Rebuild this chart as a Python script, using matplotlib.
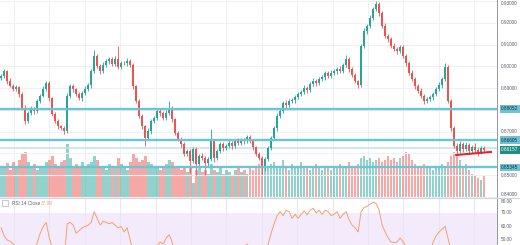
import numpy as np
import matplotlib
matplotlib.use("Agg")
import matplotlib.pyplot as plt
from matplotlib.transforms import blended_transform_factory
from matplotlib.lines import Line2D
from matplotlib.patches import Rectangle

plt.rcParams['font.family'] = ['Liberation Sans', 'DejaVu Sans']

# daily closes
closes = [0.8955, 0.8978, 0.8932, 0.8909, 0.8895, 0.8904, 0.8872, 0.8808, 0.8748, 0.8785,
          0.8808, 0.8794, 0.8840, 0.8863, 0.8895, 0.8923, 0.8854, 0.8780, 0.8748, 0.8725,
          0.8716, 0.8702, 0.8863, 0.8909, 0.8895, 0.8872, 0.8854, 0.8877, 0.8895, 0.8914,
          0.8978, 0.9047, 0.9001, 0.8978, 0.9006, 0.9024, 0.9033, 0.9010, 0.9033, 0.8996,
          0.9015, 0.9015, 0.9024, 0.9006, 0.8909, 0.8840, 0.8771, 0.8725, 0.8670, 0.8702,
          0.8748, 0.8762, 0.8794, 0.8785, 0.8762, 0.8785, 0.8808, 0.8757, 0.8693, 0.8665,
          0.8642, 0.8596, 0.8610, 0.8564, 0.8619, 0.8550, 0.8587, 0.8578, 0.8555, 0.8573,
          0.8656, 0.8578, 0.8610, 0.8642, 0.8624, 0.8633, 0.8647, 0.8633, 0.8656, 0.8647,
          0.8661, 0.8656, 0.8674, 0.8656, 0.8628, 0.8596, 0.8578, 0.8532, 0.8573, 0.8624,
          0.8670, 0.8716, 0.8771, 0.8794, 0.8831, 0.8822, 0.8840, 0.8845, 0.8858, 0.8872,
          0.8881, 0.8900, 0.8891, 0.8918, 0.8932, 0.8923, 0.8941, 0.8950, 0.8969, 0.8955,
          0.8969, 0.8978, 0.8987, 0.8978, 0.9006, 0.9033, 0.8987, 0.8960, 0.8932, 0.8914,
          0.9093, 0.9162, 0.9185, 0.9222, 0.9263, 0.9286, 0.9245, 0.9185, 0.9139, 0.9125,
          0.9093, 0.9079, 0.9070, 0.9088, 0.9047, 0.9015, 0.8969, 0.8941, 0.8909, 0.8886,
          0.8863, 0.8840, 0.8849, 0.8858, 0.8872, 0.8895, 0.8914, 0.8941, 0.8996, 0.8840,
          0.8716, 0.8633, 0.8610, 0.8642, 0.8619, 0.8638, 0.8610, 0.8628, 0.8615, 0.8605,
          0.8624, 0.8616]
first_open = 0.8945

# wicks in pips beyond the candle body
upper_wick = [10, 8, 6, 12, 8, 10, 6, 8, 12, 10,
              8, 6, 10, 8, 12, 10, 8, 6, 10, 8,
              6, 8, 12, 10, 8, 6, 10, 8, 12, 10,
              8, 30, 10, 8, 12, 10, 8, 10, 12, 60,
              8, 10, 12, 8, 10, 6, 8, 10, 6, 12,
              8, 10, 12, 8, 10, 12, 30, 8, 6, 10,
              8, 12, 10, 8, 12, 10, 8, 12, 10, 8,
              55, 10, 8, 12, 10, 8, 12, 10, 8, 12,
              10, 8, 12, 10, 8, 6, 10, 8, 12, 10,
              8, 10, 12, 10, 8, 12, 10, 8, 12, 10,
              8, 12, 10, 8, 12, 10, 8, 12, 10, 8,
              12, 10, 8, 12, 10, 18, 8, 10, 8, 6,
              10, 12, 8, 12, 10, 12, 8, 10, 12, 8,
              10, 12, 8, 10, 12, 8, 10, 12, 8, 10,
              12, 8, 10, 12, 8, 10, 12, 8, 18, 8,
              10, 8, 12, 14, 10, 16, 8, 12, 20, 10,
              8, 10]
lower_wick = [8, 10, 12, 6, 10, 8, 12, 10, 14, 8,
              10, 12, 8, 10, 6, 8, 12, 10, 8, 12,
              10, 15, 10, 8, 12, 10, 8, 12, 10, 8,
              12, 8, 10, 12, 8, 10, 12, 8, 10, 8,
              10, 8, 12, 10, 12, 10, 8, 12, 35, 10,
              12, 10, 8, 12, 10, 8, 10, 12, 10, 8,
              12, 10, 8, 55, 10, 50, 12, 10, 55, 12,
              10, 20, 10, 8, 12, 10, 8, 12, 10, 8,
              10, 12, 8, 10, 12, 10, 8, 28, 12, 10,
              8, 10, 12, 8, 10, 12, 8, 10, 12, 8,
              10, 8, 12, 10, 8, 12, 10, 8, 12, 10,
              8, 10, 12, 8, 10, 8, 12, 10, 8, 12,
              10, 8, 12, 10, 8, 10, 12, 8, 10, 12,
              8, 10, 12, 8, 10, 12, 8, 10, 12, 8,
              10, 12, 8, 10, 12, 8, 10, 12, 8, 10,
              12, 10, 18, 10, 12, 8, 14, 10, 12, 16,
              10, 12]

volumes = [32, 30, 35, 28, 36, 30, 38, 44, 46, 36,
           30, 34, 28, 32, 30, 36, 38, 42, 34, 30,
           36, 38, 54, 40, 32, 34, 30, 36, 32, 34,
           36, 42, 38, 30, 32, 28, 34, 30, 32, 40,
           34, 30, 28, 36, 44, 40, 36, 38, 42, 36,
           34, 30, 32, 28, 30, 34, 38, 36, 32, 30,
           28, 30, 26, 32, 15, 28, 30, 26, 28, 24,
           34, 28, 26, 30, 24, 28, 26, 22, 28, 30,
           26, 28, 24, 30, 28, 32, 34, 36, 30, 32,
           34, 36, 30, 32, 38, 30, 28, 34, 32, 30,
           36, 30, 32, 28, 30, 34, 30, 28, 32, 30,
           28, 32, 30, 34, 30, 32, 36, 30, 32, 34,
           40, 42, 38, 40, 36, 38, 40, 36, 38, 42,
           38, 40, 36, 40, 42, 46, 44, 38, 34, 32,
           30, 34, 32, 30, 28, 32, 30, 34, 30, 36,
           42, 46, 44, 38, 30, 34, 28, 24, 22, 20,
           18, 22]

rsi = [59, 53, 50, 49, 47, 45, 42, 36, 32, 38,
       42, 40, 48, 55, 60, 63, 52, 44, 40, 37,
       36, 35, 62, 63, 61, 55, 57, 59, 60, 61,
       63, 71, 66, 61, 64, 63, 62, 63, 61, 59,
       60, 56, 59, 50, 42, 38, 34, 31, 28, 33,
       38, 41, 46, 48.5, 47, 51.5, 54, 48.5, 40, 37,
       35, 31, 33, 29, 36, 30, 34, 33, 31, 33,
       42, 35, 39, 42, 41, 42, 44, 42, 45, 44,
       46, 45, 47, 44, 40, 36, 34, 30, 38, 47,
       55, 62, 68, 71, 68, 72, 71, 66, 69, 66,
       69, 71.5, 68.5, 72, 73.5, 70, 72, 69, 72, 71,
       68, 69, 71, 66, 69, 71, 65, 61, 59, 56,
       71, 74, 75, 76.5, 78, 77, 72, 61, 56, 51.5,
       48.5, 48, 48.5, 51.5, 48.5, 45, 41, 38, 35, 33,
       31, 29, 31, 40, 48.5, 53, 56, 58, 60, 51,
       42, 35, 33, 37, 35, 38, 35, 37, 36, 35,
       38, 37.88]

price_ticks = [0.93, 0.92, 0.91, 0.90, 0.89, 0.87, 0.85, 0.84]
grid_prices = [0.93, 0.92, 0.91, 0.90, 0.89, 0.88, 0.87, 0.86, 0.85, 0.84]
levels = [0.88052, 0.86605, 0.85345]
faint_level = 0.8622
last_price = 0.86157
rsi_ticks = [80, 70, 60, 50]
trend_x = [151.7, 163.3]
trend_y = [0.8592, 0.8606]

up_col = '#26a69a'
dn_col = '#ef5350'
lvl_col = '#6cc4d6'
grid_col = '#eef0f4'
txt_col = '#5d606b'
fs = 3.4

closes = np.array(closes)
opens = np.r_[first_open, closes[:-1]]
highs = np.maximum(opens, closes) + np.array(upper_wick) * 1e-4
lows = np.minimum(opens, closes) - np.array(lower_wick) * 1e-4
idx = np.arange(len(closes))
up = closes >= opens
colors = np.where(up, up_col, dn_col)

fig = plt.figure(figsize=(5.2, 2.45), dpi=100)
fig.patch.set_facecolor('white')
pane_w = 497 / 520
main_rect = [0, 47.5 / 245, pane_w, 197.5 / 245]
rsi_rect = [0, 0, pane_w, 46.5 / 245]
xlim = (-0.4, 165.3)
vgrid = np.arange(4.3, 166, 11.8)

# volume pane (behind the candles)
axv = fig.add_axes(main_rect, zorder=0)
axv.bar(idx, volumes, width=0.9, color=colors, alpha=0.5, linewidth=0)
axv.set_xlim(*xlim)
axv.set_ylim(0, 197.5)
axv.set_xticks(vgrid)
axv.set_yticks([])
axv.grid(axis='x', color=grid_col, lw=0.8)
axv.set_axisbelow(True)
for s in axv.spines.values():
    s.set_visible(False)
axv.tick_params(length=0, labelbottom=False)

# price pane
ax = fig.add_axes(main_rect, zorder=1)
ax.patch.set_visible(False)
ax.set_xlim(*xlim)
top = 0.93 + 1 / 2175
ax.set_ylim(top - 197.5 / 2175, top)
for p in grid_prices:
    ax.axhline(p, color=grid_col, lw=0.8, zorder=0)
ax.vlines(idx, lows, highs, colors=colors, lw=0.6, zorder=2)
ax.bar(idx, np.maximum(np.abs(closes - opens), 0.0002), bottom=np.minimum(opens, closes),
       width=0.6, color=colors, linewidth=0, zorder=3)
for lv in levels:
    ax.axhline(lv, color=lvl_col, lw=1.7, zorder=4)
ax.axhline(faint_level, color='#bfe3ec', lw=1.1, zorder=1)
ax.plot(trend_x, trend_y, color='#e8262b', lw=1.5, zorder=5)
ax.set_xticks([])
ax.set_yticks([])
for s in ax.spines.values():
    s.set_visible(False)

tr = blended_transform_factory(ax.transAxes, ax.transData)
lx = 1 + 4 / 497
for p in price_ticks:
    va = 'center'
    if p == price_ticks[0]:
        va = 'top'
    elif p == price_ticks[-1]:
        va = 'bottom'
    ax.text(lx, p, f'{p:.5f}', transform=tr, fontsize=fs, color=txt_col,
            va=va, ha='left', clip_on=False)
for lv in levels:
    ax.text(lx, lv, f'{lv:.5f}', transform=tr, fontsize=fs, color='#1b2733',
            va='center', ha='left', clip_on=False,
            bbox=dict(boxstyle='square,pad=0.3', fc=lvl_col, ec='none'))
ax.text(lx, last_price, f'{last_price:.5f}', transform=tr, fontsize=fs, color='white',
        va='center', ha='left', clip_on=False,
        bbox=dict(boxstyle='square,pad=0.3', fc='#1f8f84', ec='none'))

# RSI pane
axr = fig.add_axes(rsi_rect)
axr.set_xlim(*xlim)
axr.set_ylim(46.3, 80.7)
axr.axhspan(30, 70, color='#f3eafc', lw=0, zorder=0)
axr.set_xticks(vgrid)
axr.set_yticks([])
axr.grid(axis='x', color='#e9e6f0', lw=0.8)
axr.set_axisbelow(True)
axr.plot(idx, rsi, color='#f4a26c', lw=0.7, zorder=3)
for s in axr.spines.values():
    s.set_visible(False)
axr.tick_params(length=0, labelbottom=False)
trr = blended_transform_factory(axr.transAxes, axr.transData)
for r in rsi_ticks:
    axr.text(lx, r, f'{r:.2f}', transform=trr, fontsize=fs, color=txt_col,
             va='top' if r == rsi_ticks[0] else 'center', ha='left', clip_on=False)
axr.text(12 / 497, 77.3, 'RSI 14 Close', transform=trr, fontsize=fs, color=txt_col,
         va='center', ha='left')
axr.text(41 / 497, 77.3, '37.88', transform=trr, fontsize=fs, color='#f4a26c',
         va='center', ha='left')
fig.add_artist(Rectangle((2 / 520, 39.5 / 245), 6 / 520, 6 / 245,
                         transform=fig.transFigure, fc='white', ec='#b0b3bb', lw=0.5))

# separators
fig.add_artist(Line2D([pane_w, pane_w], [0, 1], transform=fig.transFigure, color='#9598a1', lw=0.7))
fig.add_artist(Line2D([0, 1], [46.8 / 245, 46.8 / 245], transform=fig.transFigure, color='#d1d4dc', lw=0.8))

fig.savefig('out.png', dpi=100, facecolor='white')
